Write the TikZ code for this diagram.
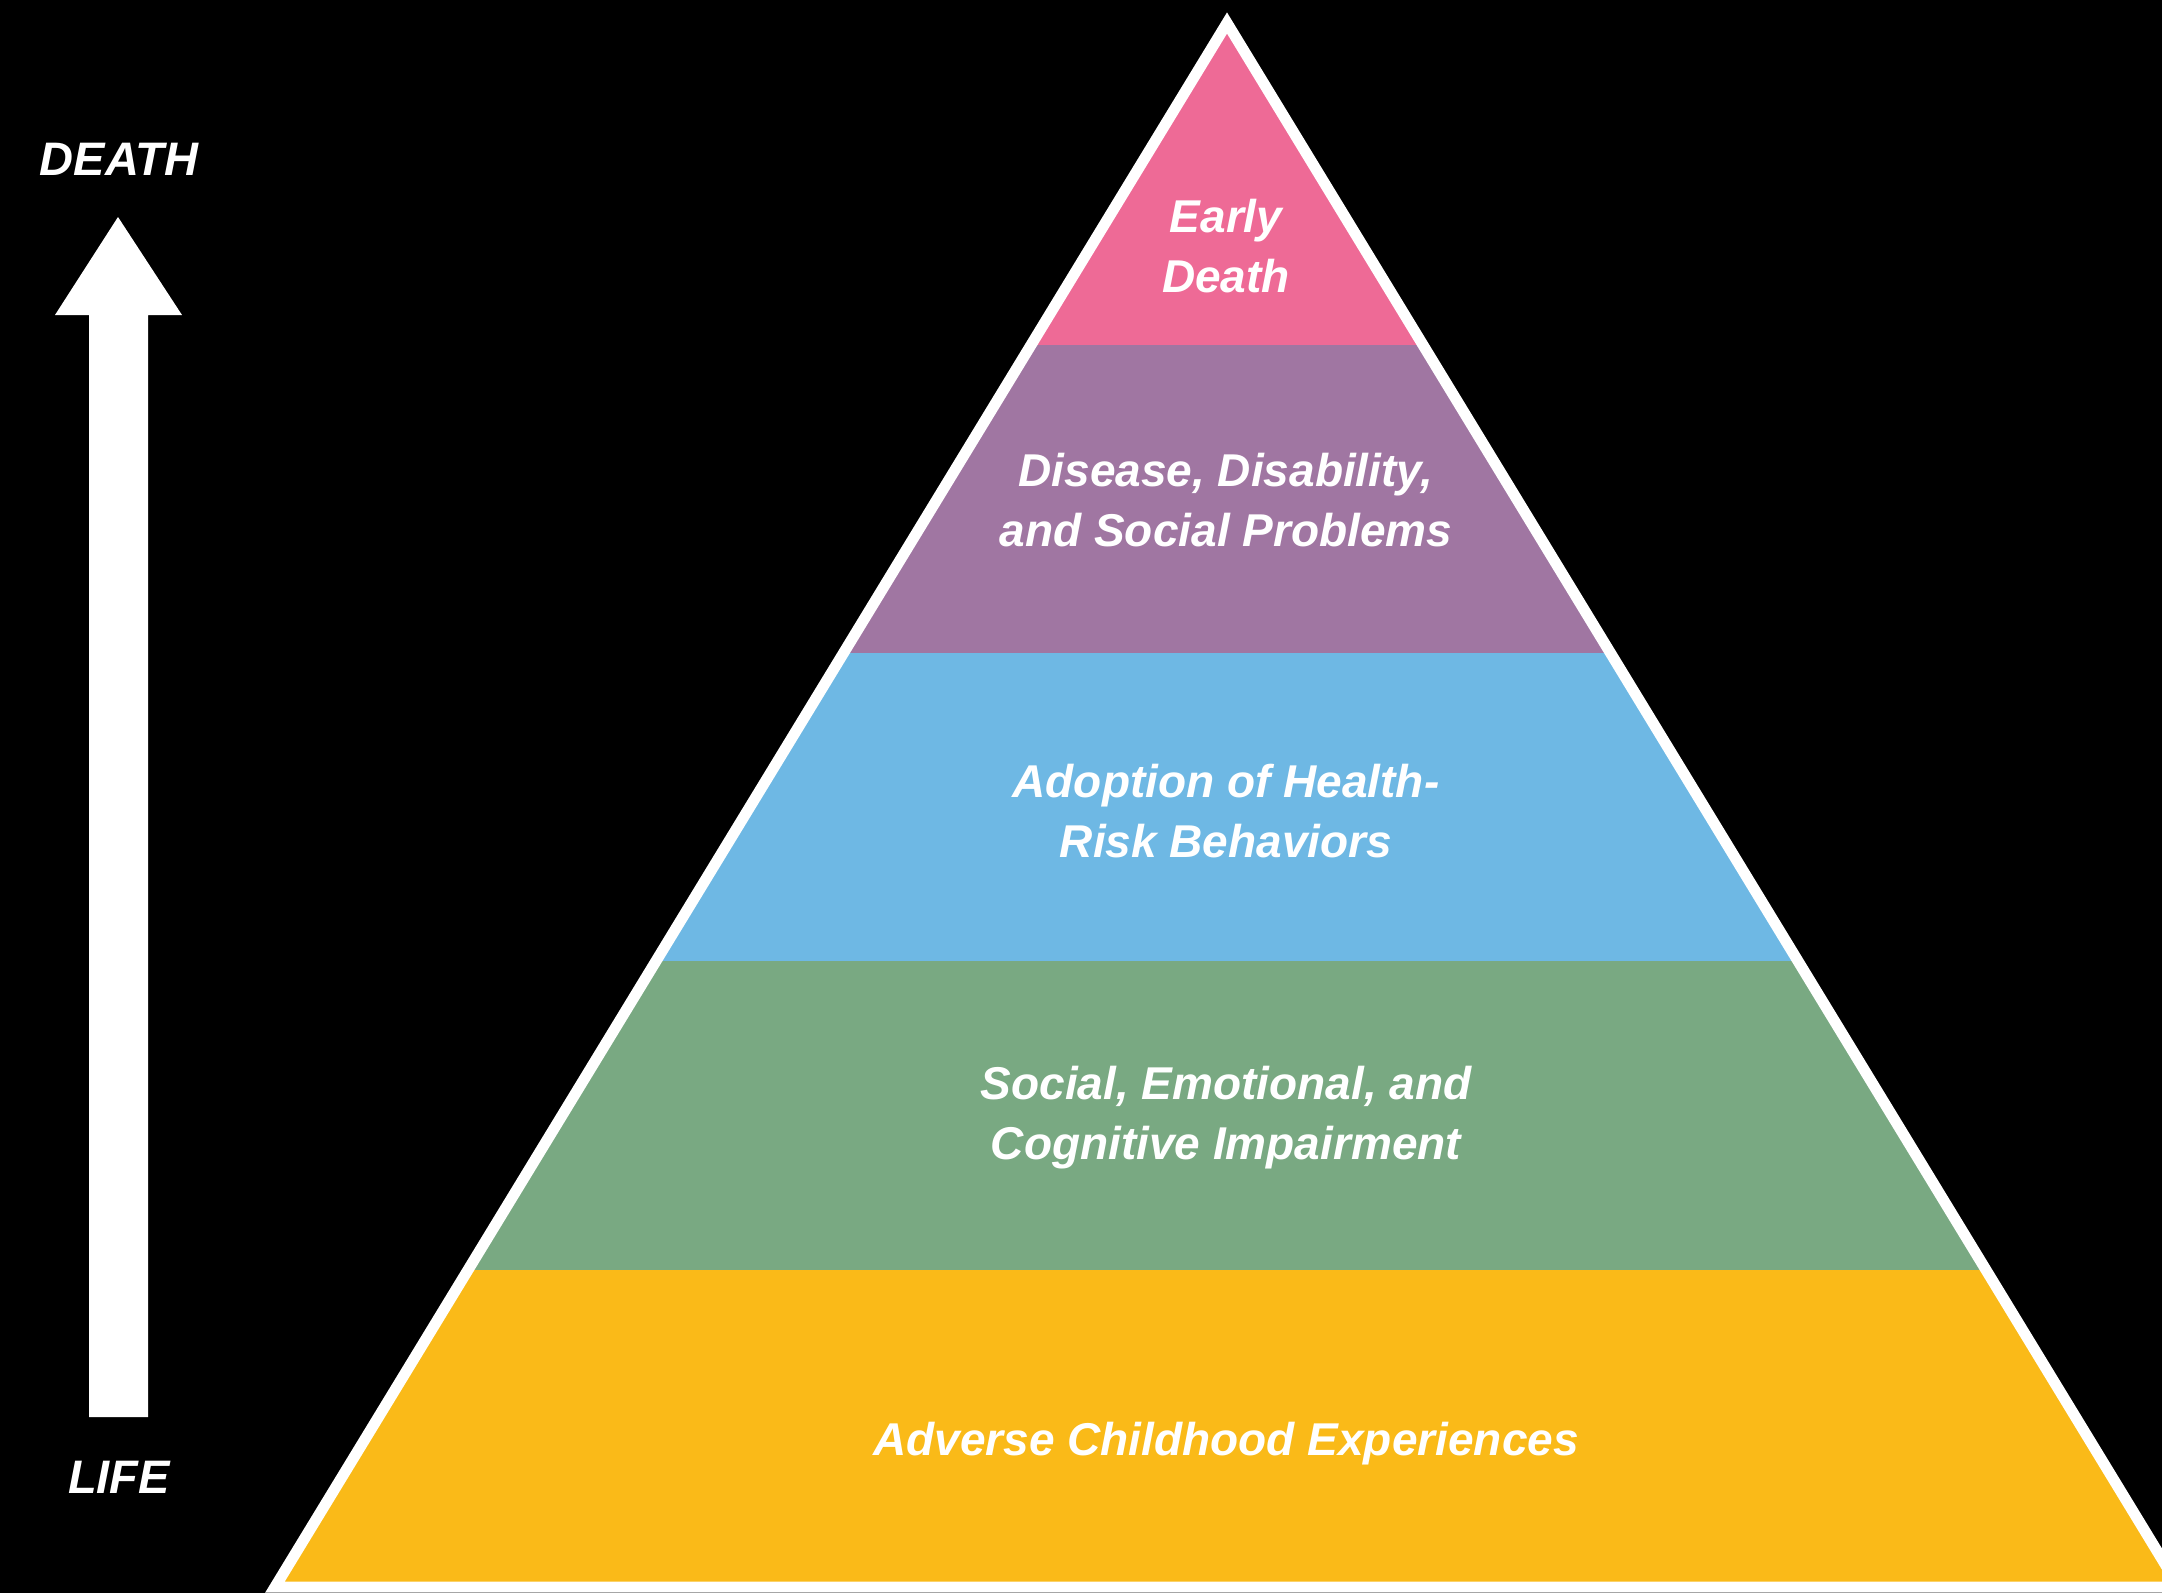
\documentclass[tikz,border=0pt]{standalone}
\usepackage{fontspec}
\setmainfont{Liberation Sans}
\definecolor{cpink}{RGB}{238,106,150}
\definecolor{cpurple}{RGB}{160,118,162}
\definecolor{cblue}{RGB}{110,184,228}
\definecolor{cgreen}{RGB}{121,169,130}
\definecolor{cyellow}{RGB}{250,186,24}
\begin{document}
\begin{tikzpicture}[x=1pt,y=-1pt,
  lbl/.style={text=white,font=\fontsize{46}{60}\selectfont\bfseries\itshape,align=center,inner sep=0pt},
  side/.style={text=white,font=\fontsize{47}{56}\selectfont\bfseries\itshape,inner sep=0pt}]
\fill[black] (0,0) rectangle (2162,1593);
\useasboundingbox (0,0) rectangle (2162,1593);
\coordinate (apex) at (1227,23);
\coordinate (bl) at (275,1587);
\coordinate (br) at (2179,1587);
\begin{scope}
\clip (apex) -- (bl) -- (br) -- cycle;
\fill[cpink] (200,0) rectangle (2200,345);
\fill[cpurple] (200,345) rectangle (2200,653);
\fill[cblue] (200,653) rectangle (2200,961);
\fill[cgreen] (200,961) rectangle (2200,1270);
\fill[cyellow] (200,1270) rectangle (2200,1600);
\end{scope}
\draw[white,line width=11pt,line join=miter] (apex) -- (bl) -- (br) -- cycle;
\node[lbl] (early) at (1226,246) {Early\\Death};
\node[lbl] (disease) at (1226,500) {Disease, Disability,\\and Social Problems};
\node[lbl] (adopt) at (1226,811) {Adoption of Health-\\Risk Behaviors};
\node[lbl] (social) at (1226,1118) {Social, Emotional, and\\Cognitive Impairment};
\node[lbl] (ace) at (1226,1444) {Adverse Childhood Experiences};
\fill[white] (118,217) -- (182,315) -- (148,315) -- (148,1417) -- (89,1417) -- (89,315) -- (55,315) -- cycle;
\node[side] (death) at (119,159) {DEATH};
\node[side] (life) at (119,1477) {LIFE};
\end{tikzpicture}
\end{document}
